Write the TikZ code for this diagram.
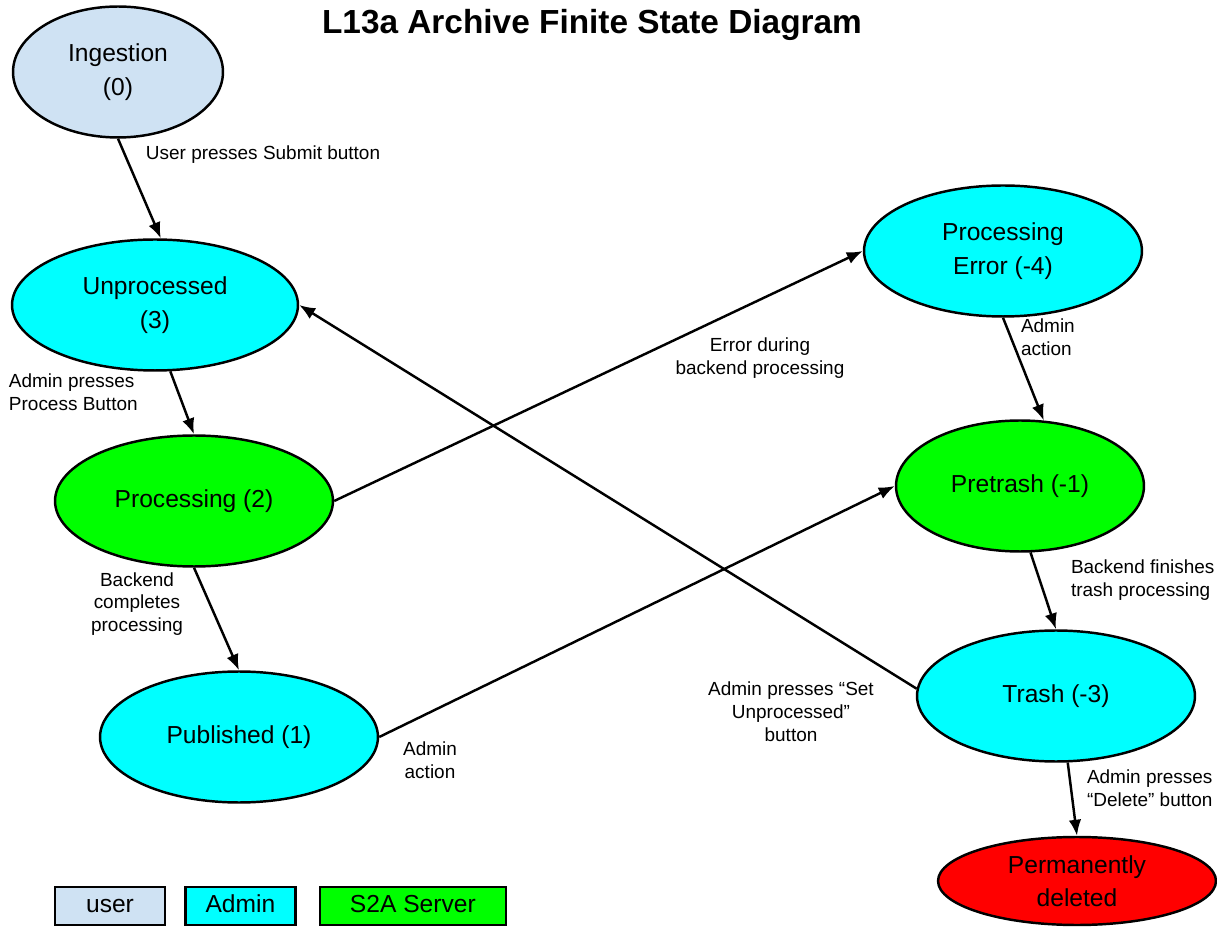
\documentclass[tikz,border=0pt]{standalone}
\usepackage{fontspec}
\setmainfont{Liberation Sans}
\usetikzlibrary{
  positioning,
  arrows.meta,
  shapes.geometric
}
\tikzset{>={Latex[length=3.2mm,width=2.5mm]}}
\definecolor{usercol}{RGB}{207,226,243}
\definecolor{admincol}{RGB}{0,255,255}
\definecolor{servercol}{RGB}{0,255,0}
\definecolor{deletecol}{RGB}{255,0,0}

\begin{document}
\begin{tikzpicture}[x=0.02cm, y=-0.02cm, line width=1.4pt,
  state/.style = {ellipse, draw, align=center, inner sep=0pt, minimum width=5.56cm, minimum height=2.62cm, font=\fontsize{14}{19}\selectfont},
  note/.style = {inner sep=1pt, font=\fontsize{10.8}{13}\selectfont},
  legend/.style = {rectangle, draw, minimum height=0.76cm, text height=1.6ex, text depth=.3ex, font=\fontsize{14}{17}\selectfont},
  ->]
        \useasboundingbox (0,0) rectangle (1217,928);
        \node[font=\fontsize{19}{23}\selectfont\bfseries] (title) at (592,25) {L13a Archive Finite State Diagram};

        % states
        \node[state, fill=usercol, minimum width=4.2cm] (ingestion) at (118,72) {Ingestion\\(0)};
        \node[state, fill=admincol, minimum width=5.72cm] (unprocessed) at (155,305) {Unprocessed\\(3)};
        \node[state, fill=servercol] (processing) at (194,501) {Processing (2)};
        \node[state, fill=admincol] (published) at (239,737) {Published (1)};
        \node[state, fill=admincol] (perror) at (1003,251) {Processing\\Error (-4)};
        \node[state, fill=servercol, minimum width=4.96cm] (pretrash) at (1020,486) {Pretrash (-1)};
        \node[state, fill=admincol] (trash) at (1056,696) {Trash (-3)};
        \node[state, fill=deletecol, minimum height=1.76cm] (deleted) at (1077,881) {Permanently\\deleted};

        % legend
        \node[legend, fill=usercol, minimum width=2.2cm] (leg_user) at (110,906) {user};
        \node[legend, fill=admincol, minimum width=2.2cm, right=0.36cm of leg_user] (leg_admin) {Admin};
        \node[legend, fill=servercol, minimum width=3.72cm, right=0.44cm of leg_admin] (leg_server) {S2A Server};

        % labels
        \node[note, anchor=west] (l_submit) at (143,155) {User presses Submit button};
        \node[note, align=left, anchor=west] (l_process) at (6,392) {Admin presses\\Process Button};
        \node[note, align=center] (l_complete) at (137,604) {Backend\\completes\\processing};
        \node[note, align=center] (l_error) at (760,358) {Error during\\backend processing};
        \node[note, align=center] (l_action1) at (430,760) {Admin\\action};
        \node[note, align=left, anchor=west] (l_action2) at (1018,337) {Admin\\action};
        \node[note, align=left, anchor=west] (l_finish) at (1068,580) {Backend finishes\\trash processing};
        \node[note, align=center] (l_set) at (791,712) {Admin presses “Set\\Unprocessed”\\button};
        \node[note, align=left, anchor=west] (l_delete) at (1084,788) {Admin presses\\“Delete” button};

        % connections
        \draw (ingestion.south) to (unprocessed.85);
        \draw (unprocessed.-77) to (processing.north);
        \draw (processing.south) to (published.north);
        \draw (processing.east) to (perror.west);
        \draw (published.east) to (pretrash.west);
        \draw (perror.south) to (pretrash.70);
        \draw (pretrash.-81) to (trash.north);
        \draw (trash.177) to (unprocessed.east);
        \draw (trash.-80) to (deleted.north);
      \end{tikzpicture}
\end{document}
